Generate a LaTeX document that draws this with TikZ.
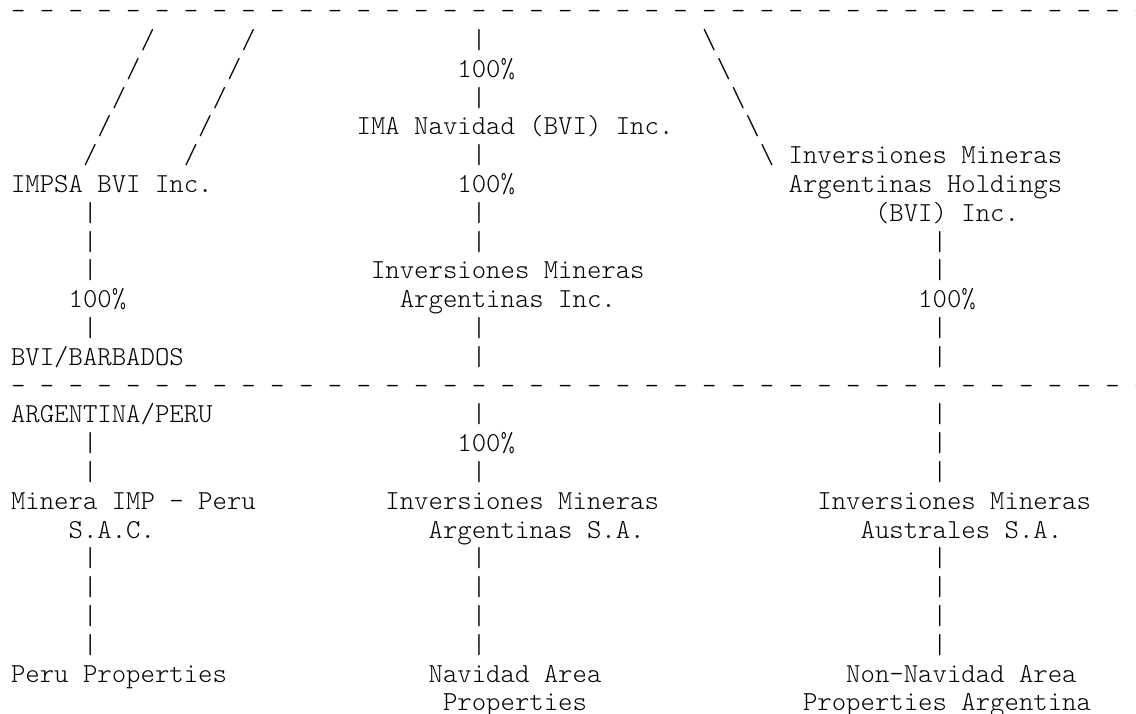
\documentclass[tikz,border=0pt]{standalone}
\newcommand\Tx[4]{\node[tt] (#1) at ({11+14.4*#2},{-19.7-28.8*#3}) {#4};}
\newcommand\Bs{\textbackslash}
\begin{document}
\begin{tikzpicture}[x=1pt,y=1pt,
  tt/.style={anchor=base west,inner sep=0pt,outer sep=0pt,text=black,
    font=\fontsize{27.43}{28.8}\ttfamily\fontseries{l}\selectfont\frenchspacing}]
\useasboundingbox (0,0) rectangle (1136,-713);
% dashed separator lines
\foreach \c in {0,2,...,78} {\node[tt] (dA\c) at ({11+14.4*\c},-19.7) {-};}
\foreach \c in {0,2,...,78} {\node[tt] (dB\c) at ({11+14.4*\c},{-19.7-28.8*13}) {-};}
% line 1
\Tx{s1a}{9}{1}{/}\Tx{s1b}{16}{1}{/}\Tx{p1}{32}{1}{|}\Tx{b1}{48}{1}{\Bs}
% line 2
\Tx{s2a}{8}{2}{/}\Tx{s2b}{15}{2}{/}\Tx{pc2}{31}{2}{100\%}\Tx{b2}{49}{2}{\Bs}
% line 3
\Tx{s3a}{7}{3}{/}\Tx{s3b}{14}{3}{/}\Tx{p3}{32}{3}{|}\Tx{b3}{50}{3}{\Bs}
% line 4
\Tx{s4a}{6}{4}{/}\Tx{s4b}{13}{4}{/}\Tx{ima}{24}{4}{IMA Navidad (BVI) Inc.}\Tx{b4}{51}{4}{\Bs}
% line 5
\Tx{s5a}{5}{5}{/}\Tx{s5b}{12}{5}{/}\Tx{p5}{32}{5}{|}\Tx{b5}{52}{5}{\Bs}\Tx{imah1}{54}{5}{Inversiones Mineras}
% line 6
\Tx{impsa}{0}{6}{IMPSA BVI Inc.}\Tx{pc6}{31}{6}{100\%}\Tx{imah2}{54}{6}{Argentinas Holdings}
% line 7
\Tx{p7a}{5}{7}{|}\Tx{p7b}{32}{7}{|}\Tx{imah3}{60}{7}{(BVI) Inc.}
% line 8
\Tx{p8a}{5}{8}{|}\Tx{p8b}{32}{8}{|}\Tx{p8c}{64}{8}{|}
% line 9
\Tx{p9a}{5}{9}{|}\Tx{imai1}{25}{9}{Inversiones Mineras}\Tx{p9c}{64}{9}{|}
% line 10
\Tx{pc10a}{4}{10}{100\%}\Tx{imai2}{27}{10}{Argentinas Inc.}\Tx{pc10c}{63}{10}{100\%}
% line 11
\Tx{p11a}{5}{11}{|}\Tx{p11b}{32}{11}{|}\Tx{p11c}{64}{11}{|}
% line 12
\Tx{bvi}{0}{12}{BVI/BARBADOS}\Tx{p12b}{32}{12}{|}\Tx{p12c}{64}{12}{|}
% line 14
\Tx{arg}{0}{14}{ARGENTINA/PERU}\Tx{p14b}{32}{14}{|}\Tx{p14c}{64}{14}{|}
% line 15
\Tx{p15a}{5}{15}{|}\Tx{pc15}{31}{15}{100\%}\Tx{p15c}{64}{15}{|}
% line 16
\Tx{p16a}{5}{16}{|}\Tx{p16b}{32}{16}{|}\Tx{p16c}{64}{16}{|}
% line 17
\Tx{mip1}{0}{17}{Minera IMP - Peru}\Tx{imas1}{26}{17}{Inversiones Mineras}\Tx{imau1}{56}{17}{Inversiones Mineras}
% line 18
\Tx{mip2}{4}{18}{S.A.C.}\Tx{imas2}{29}{18}{Argentinas S.A.}\Tx{imau2}{59}{18}{Australes S.A.}
% lines 19-22
\foreach \l in {19,20,21,22} {
  \node[tt] (pa\l) at ({11+14.4*5},{-19.7-28.8*\l}) {|};
  \node[tt] (pb\l) at ({11+14.4*32},{-19.7-28.8*\l}) {|};
  \node[tt] (pc\l) at ({11+14.4*64},{-19.7-28.8*\l}) {|};
}
% line 23
\Tx{peru}{0}{23}{Peru Properties}\Tx{nav1}{29}{23}{Navidad Area}\Tx{non1}{58}{23}{Non-Navidad Area}
% line 24
\Tx{nav2}{30}{24}{Properties}\Tx{non2}{55}{24}{Properties Argentina}
\end{tikzpicture}
\end{document}
